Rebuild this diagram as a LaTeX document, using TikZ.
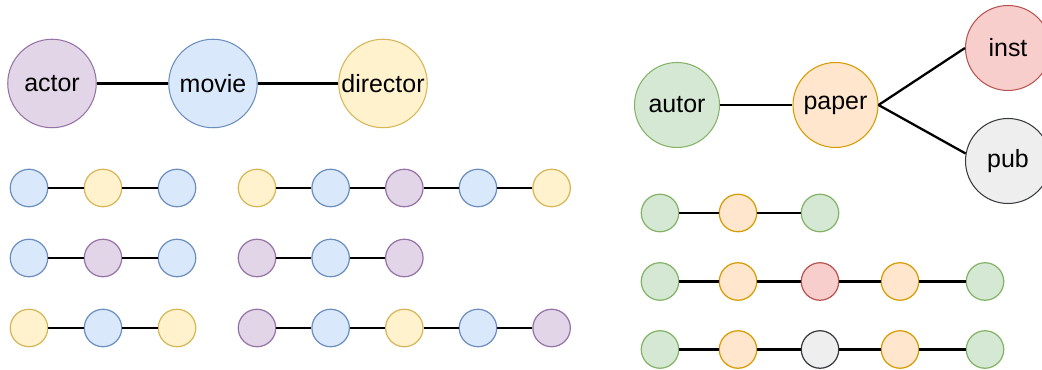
\documentclass[tikz,border=0pt]{standalone}
\usepackage{fontspec}
\setmainfont{Liberation Sans}
\definecolor{purplefill}{HTML}{E1D5E7}
\definecolor{purpleline}{HTML}{9673A6}
\definecolor{bluefill}{HTML}{DAE8FC}
\definecolor{blueline}{HTML}{6C8EBF}
\definecolor{yellowfill}{HTML}{FFF2CC}
\definecolor{yellowline}{HTML}{D6B656}
\definecolor{greenfill}{HTML}{D5E8D4}
\definecolor{greenline}{HTML}{82B366}
\definecolor{orangefill}{HTML}{FFE6CC}
\definecolor{orangeline}{HTML}{D79B00}
\definecolor{redfill}{HTML}{F8CECC}
\definecolor{redline}{HTML}{B85450}
\definecolor{grayfill}{HTML}{EEEEEE}
\definecolor{grayline}{HTML}{36393D}
\begin{document}
\begin{tikzpicture}[line width=1.3pt,
  ball/.style={circle, draw=#1line, fill=#1fill, line width=0.6pt, minimum size=1.77cm, inner sep=0pt, font=\fontsize{14.2}{17}\selectfont},
  bead/.style={circle, draw=#1line, fill=#1fill, line width=0.7pt, minimum size=0.75cm, inner sep=0pt}]
  \useasboundingbox (0,0) rectangle (20.84,7.4);
  % movie graph
  \node[ball=purple] (actor) at (1.04,5.73) {actor};
  \node[ball=blue] (movie) at (4.26,5.73) {movie};
  \node[ball=yellow] (director) at (7.66,5.73) {director};
  \draw (actor) -- (movie) -- (director);
  \foreach \c [count=\i] in {blue,yellow,blue} \node[bead=\c] (a1-\i) at ({0.58+1.48*(\i-1)},3.64) {};
  \draw (a1-1) -- (a1-2) -- (a1-3);
  \foreach \c [count=\i] in {blue,purple,blue} \node[bead=\c] (a2-\i) at ({0.58+1.48*(\i-1)},2.24) {};
  \draw (a2-1) -- (a2-2) -- (a2-3);
  \foreach \c [count=\i] in {yellow,blue,yellow} \node[bead=\c] (a3-\i) at ({0.58+1.48*(\i-1)},0.84) {};
  \draw (a3-1) -- (a3-2) -- (a3-3);
  \foreach \c [count=\i] in {yellow,blue,purple,blue,yellow} \node[bead=\c] (b1-\i) at ({5.14+1.473*(\i-1)},3.64) {};
  \draw (b1-1) -- (b1-2) -- (b1-3) -- (b1-4) -- (b1-5);
  \foreach \c [count=\i] in {purple,blue,purple} \node[bead=\c] (b2-\i) at ({5.14+1.473*(\i-1)},2.24) {};
  \draw (b2-1) -- (b2-2) -- (b2-3);
  \foreach \c [count=\i] in {purple,blue,yellow,blue,purple} \node[bead=\c] (b3-\i) at ({5.14+1.473*(\i-1)},0.84) {};
  \draw (b3-1) -- (b3-2) -- (b3-3) -- (b3-4) -- (b3-5);
  % paper graph
  \node[ball=green, minimum size=1.7cm] (autor) at (13.54,5.30) {autor};
  \node[ball=orange, minimum size=1.7cm] (paper) at (16.71,5.30) {paper};
  \node[ball=red, minimum size=1.7cm] (inst) at (20.16,6.44) {inst};
  \node[ball=gray, minimum size=1.7cm] (pub) at (20.16,4.18) {pub};
  \draw (autor) -- (paper);
  \draw (paper.east) -- (inst.west);
  \draw (paper.east) -- (pub.170);
  \foreach \c/\x [count=\i] in {green/13.2,orange/14.76,green/16.4} \node[bead=\c] (c1-\i) at (\x,3.14) {};
  \draw (c1-1) -- (c1-2) -- (c1-3);
  \foreach \c/\x [count=\i] in {green/13.2,orange/14.76,red/16.4,orange/18.0,green/19.7} \node[bead=\c] (c2-\i) at (\x,1.77) {};
  \draw (c2-1) -- (c2-2) -- (c2-3) -- (c2-4) -- (c2-5);
  \foreach \c/\x [count=\i] in {green/13.2,orange/14.76,gray/16.4,orange/18.0,green/19.7} \node[bead=\c] (c3-\i) at (\x,0.41) {};
  \draw (c3-1) -- (c3-2) -- (c3-3) -- (c3-4) -- (c3-5);
\end{tikzpicture}
\end{document}
